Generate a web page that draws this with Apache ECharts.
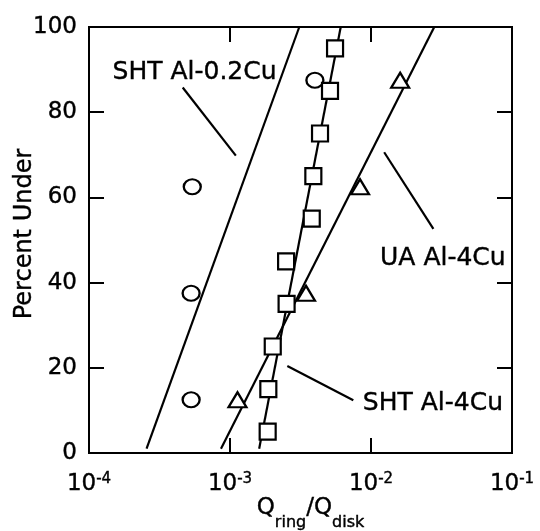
<!DOCTYPE html>
<html>
<head>
<meta charset="utf-8">
<script src="https://cdn.jsdelivr.net/npm/echarts@6/dist/echarts.min.js"></script>
<style>
  html, body { margin: 0; padding: 0; background: #ffffff; }
  #chart { width: 540px; height: 531px; }
</style>
</head>
<body>
<div id="chart"></div>
<script>
// Flow ratio (ring / disk) versus cumulative percent under, three alloy conditions.

// SHT Al-0.2Cu (circles)
const pctSHT02 = [12.5, 37.5, 62.5, 87.5];
const qSHT02 = [5.3e-4, 5.3e-4, 5.4e-4, 4.0e-3];

// SHT Al-4Cu (squares)
const pctSHT4 = [5, 15, 25, 35, 45, 55, 65, 75, 85, 95];
const qSHT4 = [1.85e-3, 1.87e-3, 2.01e-3, 2.52e-3, 2.50e-3, 3.80e-3, 3.90e-3, 4.35e-3, 5.12e-3, 5.56e-3];

// UA Al-4Cu (triangles)
const pctUA4 = [12.5, 37.5, 62.5, 87.5];
const qUA4 = [1.13e-3, 3.46e-3, 8.36e-3, 1.61e-2];

// Fitted lines (end points)
const fitPct = [1, 100];
const fitSHT02 = [2.56e-4, 3.10e-3];
const fitSHT4 = [1.61e-3, 6.1e-3];
const fitUA4 = [8.63e-4, 2.81e-2];

// Curve labels and their leader lines
const labelNames = ['SHT Al-0.2Cu', 'UA Al-4Cu', 'SHT Al-4Cu'];
const labelQ = [5.65e-4, 3.26e-2, 2.77e-2];
const labelPct = [89.2, 45.6, 11.6];
const leaderQ = [[4.62e-4, 1.10e-3], [1.24e-2, 2.77e-2], [2.55e-3, 7.49e-3]];
const leaderPct = [[85.8, 69.8], [70.6, 52.6], [20.4, 12.4]];

// Axis ticks
const yTicks = [0, 20, 40, 60, 80, 100];
const xDecades = [-4, -3, -2, -1];

const FONT = 'DejaVu Sans';
const INK = { color: '#000', textBorderColor: '#000', textBorderWidth: 0.4 };
const zip = (xs, ys) => xs.map((x, i) => [x, ys[i]]);

const lineSeries = (xs, ys) => ({
  type: 'line',
  data: zip(xs, ys),
  showSymbol: false,
  silent: true,
  lineStyle: { color: '#000', width: 2.2 },
  z: 2
});

const markerSeries = (symbol, size, xs, ys, z) => ({
  type: 'scatter',
  symbol: symbol,
  symbolSize: size,
  data: zip(xs, ys),
  silent: true,
  itemStyle: { color: '#fff', borderColor: '#000', borderWidth: 2.2, opacity: 1 },
  z: z
});

const series = [
  lineSeries(fitSHT02, fitPct),
  lineSeries(fitSHT4, fitPct),
  lineSeries(fitUA4, fitPct),
  ...leaderQ.map((q, i) => lineSeries(q, leaderPct[i])),
  markerSeries('circle', [17, 15], qSHT02, pctSHT02, 3),
  markerSeries('triangle', [18, 15], qUA4, pctUA4, 4),
  markerSeries('rect', 16, qSHT4, pctSHT4, 5),
  {
    type: 'scatter',
    symbol: 'circle',
    symbolSize: 1,
    silent: true,
    itemStyle: { color: '#000', opacity: 0 },
    data: labelNames.map((n, i) => ({ name: n, value: [labelQ[i], labelPct[i]] })),
    label: Object.assign({
      show: true,
      position: [0, 0],
      align: 'center',
      verticalAlign: 'middle',
      formatter: p => p.name,
      fontFamily: FONT,
      fontSize: 25,
      opacity: 1
    }, INK),
    labelLayout: { hideOverlap: false },
    z: 6
  }
];

const tickStyle = { show: true, inside: true, length: 15, lineStyle: { color: '#000', width: 2 } };
const frameLine = { show: true, onZero: false, lineStyle: { color: '#000', width: 2 } };

const chart = echarts.init(document.getElementById('chart'), null, { renderer: 'canvas' });
chart.setOption({
  animation: false,
  backgroundColor: '#fff',
  grid: {
    left: 89, right: 28, top: 27, bottom: 78,
    show: true, borderColor: '#000', borderWidth: 2,
    outerBoundsMode: 'none'
  },
  xAxis: [
    {
      type: 'log', logBase: 10, min: 1e-4, max: 1e-1,
      position: 'bottom',
      axisLine: frameLine,
      axisTick: tickStyle,
      splitLine: { show: false },
      minorTick: { show: false },
      axisLabel: {
        margin: 19,
        formatter: v => {
          const e = Math.round(Math.log10(v));
          return xDecades.includes(e) ? '{n|10}{s|' + e + '}' : '';
        },
        rich: {
          n: Object.assign({ fontFamily: FONT, fontSize: 23, lineHeight: 24, padding: [4, 0, 0, 0], verticalAlign: 'bottom' }, INK),
          s: Object.assign({ fontFamily: FONT, fontSize: 15, lineHeight: 16, verticalAlign: 'top' }, INK)
        }
      },
      name: '{q|Q}{s|ring}{q|/Q}{s|disk}',
      nameLocation: 'middle',
      nameGap: 44,
      nameMoveOverlap: false,
      nameTextStyle: {
        padding: [0, 0, 0, 20],
        rich: {
          q: Object.assign({ fontFamily: FONT, fontSize: 23, lineHeight: 24, verticalAlign: 'top' }, INK),
          s: Object.assign({ fontFamily: FONT, fontSize: 16, lineHeight: 16, padding: [18, 0, 0, 0], verticalAlign: 'top' }, INK)
        }
      }
    },
    {
      type: 'log', logBase: 10, min: 1e-4, max: 1e-1,
      position: 'top',
      axisLine: frameLine,
      axisTick: tickStyle,
      axisLabel: { show: false },
      splitLine: { show: false }
    }
  ],
  yAxis: [
    {
      type: 'value', min: 0, max: 100, interval: 20,
      position: 'left',
      axisLine: frameLine,
      axisTick: tickStyle,
      splitLine: { show: false },
      axisLabel: Object.assign({
        margin: 12,
        fontFamily: FONT,
        fontSize: 23,
        formatter: v => (yTicks.includes(v) ? String(v) : '')
      }, INK),
      name: 'Percent Under',
      nameLocation: 'middle',
      nameGap: 52,
      nameMoveOverlap: false,
      nameTextStyle: Object.assign({ fontFamily: FONT, fontSize: 24, padding: [0, 0, 0, 12] }, INK)
    },
    {
      type: 'value', min: 0, max: 100, interval: 20,
      position: 'right',
      axisLine: frameLine,
      axisTick: tickStyle,
      axisLabel: { show: false },
      splitLine: { show: false }
    }
  ],
  series: series
});
</script>
</body>
</html>
